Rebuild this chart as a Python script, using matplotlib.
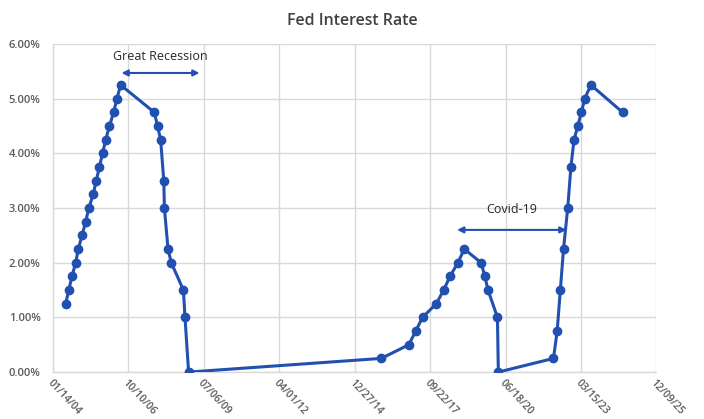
import datetime as dt
import numpy as np
import matplotlib
matplotlib.use("Agg")
import matplotlib.pyplot as plt
import matplotlib.dates as mdates
from matplotlib.ticker import FuncFormatter

# Fed funds target (lower bound), %
dates = [
    "2004-06-30", "2004-08-10", "2004-09-21", "2004-11-10", "2004-12-14",
    "2005-02-02", "2005-03-22", "2005-05-03", "2005-06-30", "2005-08-09",
    "2005-09-20", "2005-11-01", "2005-12-13", "2006-01-31", "2006-03-28",
    "2006-05-10", "2006-06-29",
    "2007-09-18", "2007-10-31", "2007-12-11", "2008-01-22", "2008-01-30",
    "2008-03-18", "2008-04-30", "2008-10-08", "2008-10-29", "2008-12-16",
    "2015-12-16", "2016-12-14", "2017-03-15", "2017-06-14", "2017-12-13",
    "2018-03-21", "2018-06-13", "2018-09-26", "2018-12-19",
    "2019-07-31", "2019-09-18", "2019-10-30", "2020-03-03", "2020-03-15",
    "2022-03-16", "2022-05-04", "2022-06-15", "2022-07-27", "2022-09-21",
    "2022-11-02", "2022-12-14", "2023-02-01", "2023-03-22", "2023-05-03",
    "2023-07-26", "2024-09-18",
]
rates = [
    1.25, 1.50, 1.75, 2.00, 2.25,
    2.50, 2.75, 3.00, 3.25, 3.50,
    3.75, 4.00, 4.25, 4.50, 4.75,
    5.00, 5.25,
    4.75, 4.50, 4.25, 3.50, 3.00,
    2.25, 2.00, 1.50, 1.00, 0.00,
    0.25, 0.50, 0.75, 1.00, 1.25,
    1.50, 1.75, 2.00, 2.25,
    2.00, 1.75, 1.50, 1.00, 0.00,
    0.25, 0.75, 1.50, 2.25, 3.00,
    3.75, 4.25, 4.50, 4.75, 5.00,
    5.25, 4.75,
]

axis_start = "2004-01-14"
tick_step_days = 1000
n_ticks = 9

recession_span = ("2006-07-10", "2009-05-10")
recession_y = 5.47
covid_span = ("2018-09-15", "2022-09-05")
covid_y = 2.60

line_color = "#2150b0"
grid_color = "#d9d9d9"
text_color = "#595959"


def to_num(s):
    return mdates.date2num(dt.datetime.strptime(s, "%Y-%m-%d"))


x = [to_num(d) for d in dates]
x0 = to_num(axis_start)
ticks = [x0 + i * tick_step_days for i in range(n_ticks)]

plt.rcParams["font.family"] = ["Open Sans", "DejaVu Sans"]

fig = plt.figure(figsize=(7.04, 4.19), dpi=100)
ax = fig.add_axes([0.0753, 0.112, 0.857, 0.783])

ax.plot(x, rates, "-o", color=line_color, lw=2.2, ms=6, zorder=3)

ax.set_xlim(ticks[0], ticks[-1])
ax.set_ylim(0, 6)
ax.set_xticks(ticks)
ax.xaxis.set_major_formatter(mdates.DateFormatter("%m/%d/%y"))
ax.set_yticks(np.arange(0, 7, 1))
ax.yaxis.set_major_formatter(FuncFormatter(lambda v, p: f"{v:.2f}%"))

ax.tick_params(axis="both", length=0, labelcolor=text_color)
ax.tick_params(axis="y", labelsize=8, pad=9)
ax.tick_params(axis="x", labelsize=7.5, pad=4)

for lab in ax.get_xticklabels():
    lab.set_rotation(-47)
    lab.set_ha("left")
    lab.set_va("top")
    lab.set_rotation_mode("anchor")
for lab in ax.get_yticklabels() + ax.get_xticklabels():
    lab.set_fontweight("semibold")

ax.grid(True, color=grid_color, lw=1.0)
ax.set_axisbelow(True)
for side in ["top", "right"]:
    ax.spines[side].set_visible(False)
for side in ["left", "bottom"]:
    ax.spines[side].set_color(grid_color)
    ax.spines[side].set_linewidth(1.0)

fig.suptitle("Fed Interest Rate", x=0.5, y=0.968, fontsize=11.5,
             fontweight="semibold", color="#404040")

# annotations
r0, r1 = to_num(recession_span[0]), to_num(recession_span[1])
ax.annotate("", xy=(r0, recession_y), xytext=(r1, recession_y),
            arrowprops=dict(arrowstyle="<|-|>", color=line_color, lw=1.5,
                            mutation_scale=9, shrinkA=0, shrinkB=0))
ax.text((r0 + r1) / 2, 5.77, "Great Recession", ha="center", va="center",
        fontsize=9, color="#262626")

c0, c1 = to_num(covid_span[0]), to_num(covid_span[1])
ax.annotate("", xy=(c0, covid_y), xytext=(c1, covid_y),
            arrowprops=dict(arrowstyle="<|-|>", color=line_color, lw=1.5,
                            mutation_scale=9, shrinkA=0, shrinkB=0))
ax.text((c0 + c1) / 2, 2.98, "Covid-19", ha="center", va="center",
        fontsize=9, color="#262626")

fig.savefig("out.png", dpi=100)
